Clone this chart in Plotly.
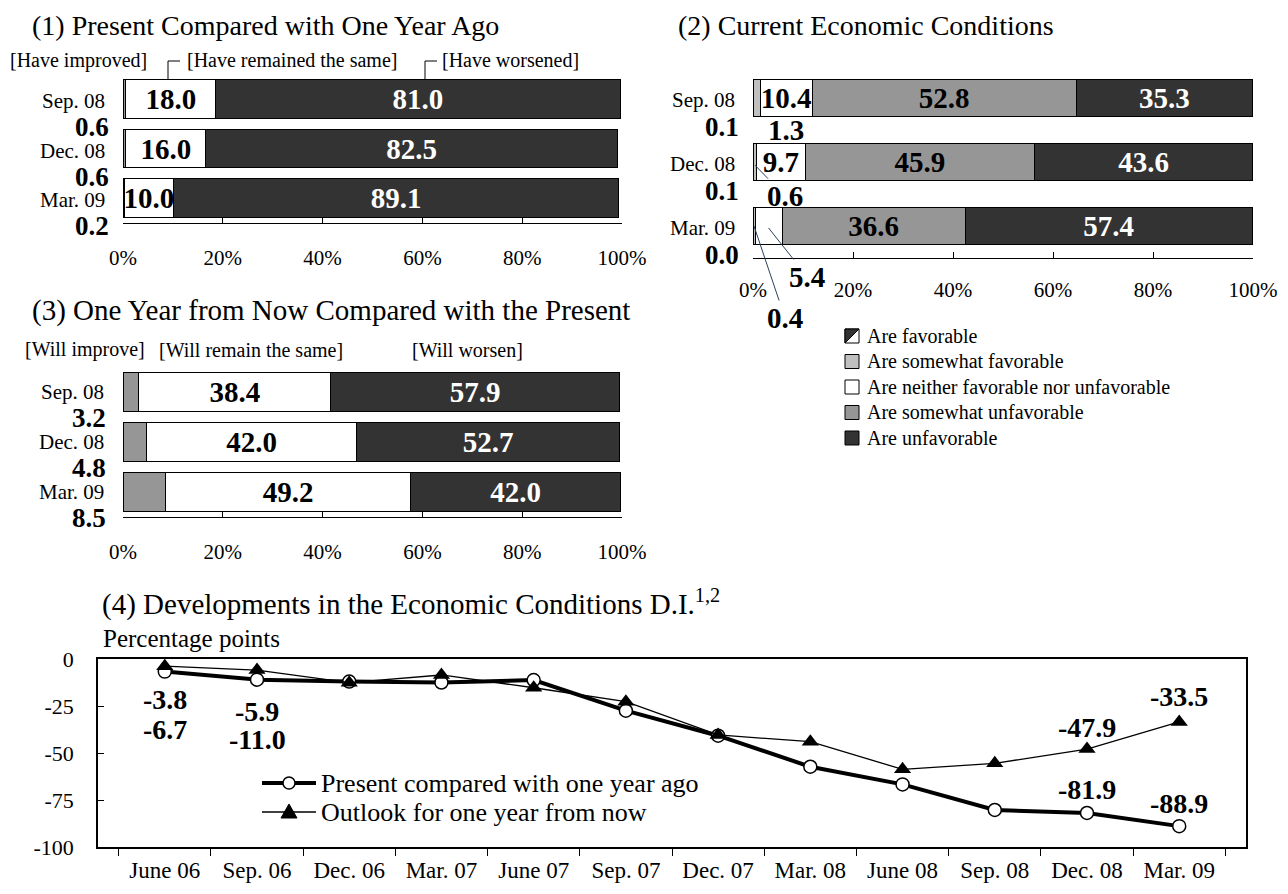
import plotly.graph_objects as go

# page body has an 8px margin, so the figure is drawn 8px in from the window edge
OFF = 8
W, H = 1288 - 2 * OFF, 894 - 2 * OFF
SERIF = "Liberation Serif, Times New Roman, serif"
DARK, MID, LIGHT = "#333333", "#969696", "#c0c0c0"

# (1) present vs one year ago
p1_cats = ["Sep. 08", "Dec. 08", "Mar. 09"]
p1_improved = [0.6, 0.6, 0.2]
p1_same = [18.0, 16.0, 10.0]
p1_worse = [81.0, 82.5, 89.1]

# (2) current economic conditions
p2_cats = ["Sep. 08", "Dec. 08", "Mar. 09"]
p2_fav = [0.1, 0.1, 0.0]
p2_swfav = [1.3, 0.6, 0.4]
p2_neither = [10.4, 9.7, 5.4]
p2_swunfav = [52.8, 45.9, 36.6]
p2_unfav = [35.3, 43.6, 57.4]
p2_names = ["Are favorable", "Are somewhat favorable",
            "Are neither favorable nor unfavorable", "Are somewhat unfavorable",
            "Are unfavorable"]

# (3) one year from now vs present
p3_cats = ["Sep. 08", "Dec. 08", "Mar. 09"]
p3_improve = [3.2, 4.8, 8.5]
p3_same = [38.4, 42.0, 49.2]
p3_worsen = [57.9, 52.7, 42.0]

# (4) economic conditions D.I.
di_dates = ["June 06", "Sep. 06", "Dec. 06", "Mar. 07", "June 07", "Sep. 07",
            "Dec. 07", "Mar. 08", "June 08", "Sep. 08", "Dec. 08", "Mar. 09"]
di_present = [-6.7, -11.0, -12.0, -12.5, -11.2, -27.5, -40.8, -57.3, -66.7, -80.3, -81.9, -88.9]
di_outlook = [-3.8, -5.9, -12.6, -8.5, -15.3, -22.7, -40.4, -44.0, -58.7, -55.5, -47.9, -33.5]
di_names = ["Present compared with one year ago", "Outlook for one year from now"]

pct_vals = [0, 20, 40, 60, 80, 100]
pct_text = [f"{v}%" for v in pct_vals]


def px(x):
    return (x - OFF) / W


def py(y):
    return 1 - (y - OFF) / H


def seg(vals, min_label=100):
    return [f"{v:.1f}" if v >= min_label else "" for v in vals]


fig = go.Figure()


def add_bar(cats, vals, color, name, xa, ya, width, text_min=100, txt_col="black"):
    fig.add_trace(go.Bar(
        y=cats, x=vals, orientation="h", name=name, xaxis=xa, yaxis=ya, width=width,
        marker=dict(color=color, line=dict(color="black", width=1)),
        text=seg(vals, text_min), textposition="inside", insidetextanchor="middle",
        constraintext="none",
        textfont=dict(family=SERIF, size=29, color=txt_col, weight="bold"),
        showlegend=False, hoverinfo="skip"))


add_bar(p1_cats, p1_improved, MID, "Have improved", "x", "y", 0.78)
add_bar(p1_cats, p1_same, "white", "Have remained the same", "x", "y", 0.78, 5)
add_bar(p1_cats, p1_worse, DARK, "Have worsened", "x", "y", 0.78, 5, "white")

p2_colors = ["white", LIGHT, "white", MID, DARK]
p2_series = [p2_fav, p2_swfav, p2_neither, p2_swunfav, p2_unfav]
p2_textmin = [100, 100, 8, 5, 5]
for vals, col, name, tmin in zip(p2_series, p2_colors, p2_names, p2_textmin):
    add_bar(p2_cats, vals, col, name, "x2", "y2", 0.58, tmin,
            "white" if col == DARK else "black")

add_bar(p3_cats, p3_improve, MID, "Will improve", "x3", "y3", 0.78)
add_bar(p3_cats, p3_same, "white", "Will remain the same", "x3", "y3", 0.78, 5)
add_bar(p3_cats, p3_worsen, DARK, "Will worsen", "x3", "y3", 0.78, 5, "white")

fig.add_trace(go.Scatter(
    x=di_dates, y=di_present, xaxis="x4", yaxis="y4", mode="lines+markers",
    name=di_names[0], showlegend=False,
    line=dict(color="black", width=4),
    marker=dict(symbol="circle", size=13, color="white", line=dict(color="black", width=1.5)),
    hoverinfo="skip"))
fig.add_trace(go.Scatter(
    x=di_dates, y=di_outlook, xaxis="x4", yaxis="y4", mode="lines+markers",
    name=di_names[1], showlegend=False,
    line=dict(color="black", width=1.3),
    marker=dict(symbol="triangle-up", size=15, color="black"),
    hoverinfo="skip"))


def pct_axis(x0, x1, anchor, standoff):
    return dict(domain=[px(x0), px(x1)], anchor=anchor, range=[0, 100],
                tickvals=pct_vals, ticktext=pct_text, ticks="inside", ticklen=6,
                tickcolor="black", showline=True, linecolor="black", linewidth=1,
                showgrid=False, zeroline=False,
                tickfont=dict(family=SERIF, size=21, color="black"),
                ticklabelstandoff=standoff, automargin=False, fixedrange=True)


def cat_axis(y_bottom, y_top, anchor, cats):
    return dict(domain=[py(y_bottom), py(y_top)], anchor=anchor, type="category",
                categoryarray=cats, range=[2.5, -0.5], autorange=False,
                showticklabels=False, showgrid=False, zeroline=False,
                showline=False, ticks="", automargin=False, fixedrange=True)


fig.update_layout(
    width=W, height=H, autosize=False, barmode="stack", showlegend=False,
    margin=dict(l=0, r=0, t=0, b=0),
    paper_bgcolor="white", plot_bgcolor="white",
    font=dict(family=SERIF, color="black"),
    xaxis=pct_axis(123, 622, "y", 16),
    yaxis=cat_axis(223, 74, "x", p1_cats),
    xaxis2=pct_axis(753, 1253, "y2", 13),
    yaxis2=cat_axis(258, 66, "x2", p2_cats),
    xaxis3=pct_axis(123, 622, "y3", 16),
    yaxis3=cat_axis(517, 367, "x3", p3_cats),
    xaxis4=dict(domain=[px(98), px(1246)], anchor="y4", type="category",
                tickson="boundaries", ticks="outside", ticklen=7, tickcolor="black",
                showline=True, mirror=True, linecolor="black", linewidth=1.5,
                showgrid=False, tickfont=dict(family=SERIF, size=23, color="black"),
                ticklabelstandoff=2, automargin=False, fixedrange=True),
    yaxis4=dict(domain=[py(847), py(659)], anchor="x4", range=[-100, 0],
                tickvals=[0, -25, -50, -75, -100],
                ticktext=["0", "-25", "-50", "-75", "-100"],
                ticks="inside", ticklen=6, tickcolor="black",
                showline=True, mirror=True, linecolor="black", linewidth=1.5,
                showgrid=False, zeroline=False, ticklabelstandoff=18,
                tickfont=dict(family=SERIF, size=22, color="black"),
                automargin=False, fixedrange=True),
)

ann = []
shapes = []


def text_ann(x, y, s, size=20, xanchor="left", bold=False, yanchor="middle", **kw):
    ann.append(dict(x=px(x), y=py(y), xref="paper", yref="paper", text=s,
                    showarrow=False, xanchor=xanchor, yanchor=yanchor,
                    font=dict(family=SERIF, size=size, color="black",
                              weight="bold" if bold else "normal"), **kw))


# titles
text_ann(30, OFF, "(1) Present Compared with One Year Ago", 28, yanchor="top")
text_ann(676, OFF, "(2) Current Economic Conditions", 28, yanchor="top")
text_ann(30, 310, "(3) One Year from Now Compared with the Present", 29)
text_ann(100, 602, "(4) Developments in the Economic Conditions D.I.<sup>1,2</sup>", 29)
text_ann(101, 638, "Percentage points", 25)

# segment headers
text_ann(8, 60, "[Have improved]", 20)
text_ann(185, 60, "[Have remained the same]", 20)
text_ann(440, 60, "[Have worsened]", 20)
text_ann(23, 350, "[Will improve]", 20)
text_ann(157, 350, "[Will remain the same]", 20)
text_ann(410, 350, "[Will worsen]", 20)


def row_labels(cats, small, yref, x_cat, x_val, cat_shift, val_shift):
    for c, v in zip(cats, small):
        ann.append(dict(x=px(x_cat), y=c, xref="paper", yref=yref, text=c,
                        showarrow=False, xanchor="right", yanchor="middle",
                        yshift=cat_shift, font=dict(family=SERIF, size=21, color="black")))
        ann.append(dict(x=px(x_val), y=c, xref="paper", yref=yref, text=f"{v:.1f}",
                        showarrow=False, xanchor="right", yanchor="middle",
                        yshift=val_shift,
                        font=dict(family=SERIF, size=27, color="black", weight="bold")))


row_labels(p1_cats, p1_improved, "y", 107, 111, -2, -28)
row_labels(p2_cats, p2_fav, "y2", 737, 741, -2, -29)
row_labels(p3_cats, p3_improve, "y3", 106, 108, 0, -26)

bold29 = dict(family=SERIF, size=29, color="black", weight="bold")
# small segment labels in panel (2), some with leader lines
ann.append(dict(x=p2_fav[0] + p2_swfav[0] + p2_neither[0] / 2, y=0, xref="x2", yref="y2",
                text=f"{p2_swfav[0]:.1f}", showarrow=False, yshift=-32, font=bold29))
ann.append(dict(x=p2_fav[1] + p2_swfav[1] / 2, y=1.05, xref="x2", yref="y2",
                text=f"{p2_swfav[1]:.1f}", showarrow=True, arrowhead=0, arrowwidth=1,
                ax=30, ay=31, font=bold29))
ann.append(dict(x=p2_fav[2] + p2_swfav[2] + p2_neither[2] / 2, y=2.03, xref="x2", yref="y2",
                text=f"{p2_neither[2]:.1f}", showarrow=True, arrowhead=0, arrowwidth=1,
                ax=39, ay=49, font=bold29))
ann.append(dict(x=p2_fav[2] + p2_swfav[2] / 2, y=2.0, xref="x2", yref="y2",
                text=f"{p2_swfav[2]:.1f}", showarrow=True, arrowhead=0, arrowwidth=1,
                ax=31, ay=92, font=bold29))

# legend for panel (2)
for i, (name, col) in enumerate(zip(p2_names, p2_colors)):
    yc = 336 + i * 25.5
    shapes.append(dict(type="rect", xref="paper", yref="paper",
                       x0=px(845), x1=px(859), y0=py(yc + 7), y1=py(yc - 7),
                       fillcolor=col, line=dict(color="black", width=1)))
    if i == 0:
        shapes.append(dict(type="path", xref="paper", yref="paper",
                           path=f"M {px(845)},{py(yc + 7)} L {px(845)},{py(yc - 7)} "
                                f"L {px(859)},{py(yc - 7)} Z",
                           fillcolor=DARK, line=dict(color="black", width=1)))
    text_ann(865, yc, name, 20)

# panel (4) value labels
bold28 = dict(family=SERIF, size=28, color="black", weight="bold")
di_labels = [(0, di_outlook, -33), (0, di_present, -58), (1, di_outlook, -41),
             (1, di_present, -60), (10, di_outlook, 22), (10, di_present, 23),
             (11, di_outlook, 25), (11, di_present, 23)]
for i, series, shift in di_labels:
    ann.append(dict(x=di_dates[i], y=series[i], xref="x4", yref="y4",
                    text=f"{series[i]:.1f}", showarrow=False, yshift=shift, font=bold28))

# legend for panel (4)
for i, name in enumerate(di_names):
    yc = 783 + i * 29
    shapes.append(dict(type="line", xref="paper", yref="paper",
                       x0=px(262), x1=px(316), y0=py(yc), y1=py(yc),
                       line=dict(color="black", width=4 if i == 0 else 1.3)))
    if i == 0:
        shapes.append(dict(type="circle", xref="paper", yref="paper",
                           x0=px(283), x1=px(295), y0=py(yc + 6), y1=py(yc - 6),
                           fillcolor="white", line=dict(color="black", width=1.5)))
    else:
        shapes.append(dict(type="path", xref="paper", yref="paper",
                           path=f"M {px(281)},{py(yc + 6)} L {px(297)},{py(yc + 6)} "
                                f"L {px(289)},{py(yc - 8)} Z",
                           fillcolor="black", line=dict(color="black", width=1)))
    text_ann(319, yc, name, 26)

# bracket leaders above the bars in panel (1)
for x0 in (168, 425):
    shapes.append(dict(type="path", xref="paper", yref="paper",
                       path=f"M {px(x0 + 12)},{py(61)} L {px(x0)},{py(61)} L {px(x0)},{py(79)}",
                       line=dict(color="black", width=1)))

fig.update_layout(annotations=ann, shapes=shapes)

fig.write_html("out.html", config={"displayModeBar": False})
